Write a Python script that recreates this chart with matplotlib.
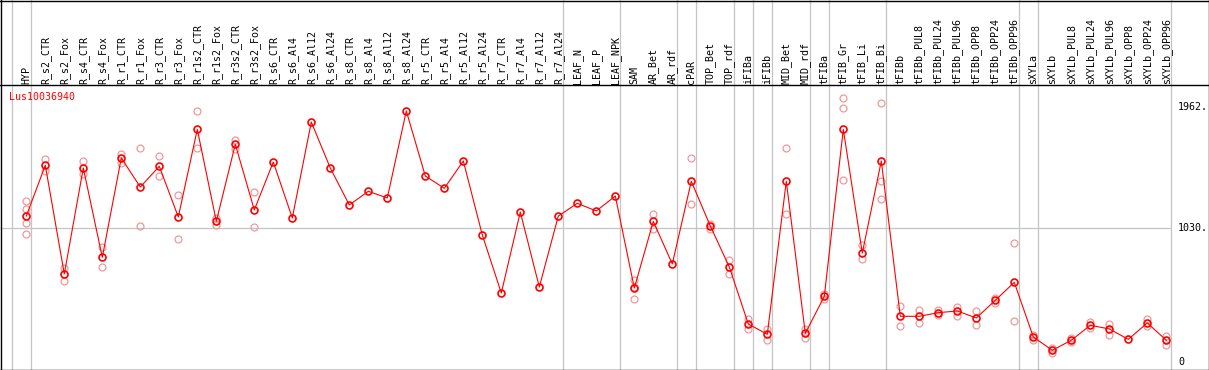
import matplotlib
matplotlib.use('Agg')
from matplotlib import pyplot as plt
from matplotlib.lines import Line2D
import numpy as np

plt.rcParams['font.family'] = ['DejaVu Sans Mono']

# column names (one per sample)
labels = ['HYP', 'R_s2_CTR', 'R_s2_Fox', 'R_s4_CTR', 'R_s4_Fox', 'R_r1_CTR', 'R_r1_Fox',
          'R_r3_CTR', 'R_r3_Fox', 'R_r1s2_CTR', 'R_r1s2_Fox', 'R_r3s2_CTR', 'R_r3s2_Fox',
          'R_s6_CTR', 'R_s6_Al4', 'R_s6_Al12', 'R_s6_Al24', 'R_s8_CTR', 'R_s8_Al4',
          'R_s8_Al12', 'R_s8_Al24', 'R_r5_CTR', 'R_r5_Al4', 'R_r5_Al12', 'R_r5_Al24',
          'R_r7_CTR', 'R_r7_Al4', 'R_r7_Al12', 'R_r7_Al24', 'LEAF_N', 'LEAF_P', 'LEAF_NPK',
          'SAM', 'AR_Bet', 'AR_rdf', 'cPAR', 'TOP_Bet', 'TOP_rdf', 'iFIBa', 'iFIBb',
          'MID_Bet', 'MID_rdf', 'tFIBa', 'tFIB_Gr', 'tFIB_Li', 'tFIB_Bi', 'tFIBb',
          'tFIBb_PUL8', 'tFIBb_PUL24', 'tFIBb_PUL96', 'tFIBb_OPP8', 'tFIBb_OPP24',
          'tFIBb_OPP96', 'sXYLa', 'sXYLb', 'sXYLb_PUL8', 'sXYLb_PUL24', 'sXYLb_PUL96',
          'sXYLb_OPP8', 'sXYLb_OPP24', 'sXYLb_OPP96']

# mean expression per column
means = [1124, 1514, 679, 1493, 807, 1570, 1347, 1506, 1117, 1790, 1083, 1675, 1171,
         1539, 1109, 1846, 1493, 1209, 1314, 1263, 1931, 1432, 1337, 1547, 979, 533,
         1155, 579, 1124, 1222, 1163, 1278, 571, 1083, 756, 1391, 1048, 733, 295, 216,
         1391, 223, 507, 1790, 840, 1547, 354, 354, 382, 395, 341, 477, 615, 195, 93,
         170, 285, 257, 177, 303, 170]

# replicate values per column
reps = [[1237, 1176, 1073, 986], [1562, 1467], [725, 628], [1547, 1447], [884, 730],
        [1603, 1534], [1644, 1048], [1583, 1429], [1283, 945], [1928, 1644],
        [1107, 1058], [1711, 1642], [1306, 1037],
        [], [], [], [], [], [], [], [], [], [], [], [], [], [], [], [], [], [], [],
        [633, 577, 487], [1140, 1027], [], [1567, 1214], [1063, 1027], [786, 679],
        [333, 259], [259, 170], [1644, 1140], [259, 187], [525, 487],
        [2028, 1951, 1398], [899, 797], [1992, 1393, 1252], [431, 277], [405, 305],
        [402, 361], [426, 356], [395, 287], [495, 459], [915, 315], [213, 175],
        [111, 72], [188, 157], [308, 264], [295, 213], [], [333, 277], [200, 136]]

# group separators come after these columns
sep_after = [-1, 0, 28, 31, 34, 35, 37, 38, 39, 41, 42, 45, 52, 53, 60]

tick_vals = [1962, 1030, 0]
tick_text = ['1962.', '1030.', '0']
gene = 'Lus10036940'

W, H = 1209, 370
head = 85
fig = plt.figure(figsize=(W / 100, H / 100), dpi=100)

xlim = (-26.3 / 19, (W - 26.3) / 19)
ylim = (-58.4, 2130.6)
grey = '#c4c4c4'

ax = fig.add_axes([0, 0, 1, (H - head) / H])
ax.set_xlim(*xlim)
ax.set_ylim(*ylim)
ax.axis('off')

axh = fig.add_axes([0, (H - head) / H, 1, head / H])
axh.set_xlim(*xlim)
axh.set_ylim(0, 1)
axh.axis('off')

x = np.arange(len(labels))

# separators
for s in sep_after:
    ax.axvline(s + 0.23, color=grey, lw=0.9, zorder=1)
    axh.axvline(s + 0.23, color=grey, lw=0.9, zorder=1)

# single grid line
ax.hlines(1030, xlim[0], sep_after[-1] + 0.23, color=grey, lw=0.9, zorder=1)

# replicates
for i, r in enumerate(reps):
    if r:
        ax.plot([i] * len(r), r, 'o', ms=5, mfc='none', mec='#ee9a9a', mew=0.9, zorder=2)

ax.plot(x, means, '-', color='red', lw=0.8, zorder=3)
ax.plot(x, means, 'o', ms=5, mfc='none', mec='red', mew=1.2, zorder=4)

# right side value labels
for v, t in zip(tick_vals, tick_text):
    ax.text(1178 / W, v, t, transform=ax.get_yaxis_transform(), ha='left', va='center',
            fontsize=7.2, color='black')

ax.text(9.5 / W, (H - 97) / (H - head), gene, transform=ax.transAxes, ha='left',
        va='center', fontsize=7.2, color='red')

# column labels
for i, lab in enumerate(labels):
    axh.text(i, 1.5 / head, lab, rotation=90, ha='center', va='bottom', fontsize=7.2)

# frame and header line
fy = (H - head) / H
for xs, ys in [([0, 1], [fy, fy]), ([0, 1], [1 - 0.5 / H, 1 - 0.5 / H]),
               ([0, 1], [0.5 / H, 0.5 / H]), ([0.5 / W, 0.5 / W], [0, 1]),
               ([1 - 0.5 / W, 1 - 0.5 / W], [0, 1])]:
    fig.add_artist(Line2D(xs, ys, transform=fig.transFigure, color='black', lw=1.0))

fig.savefig('out.png', dpi=100)
